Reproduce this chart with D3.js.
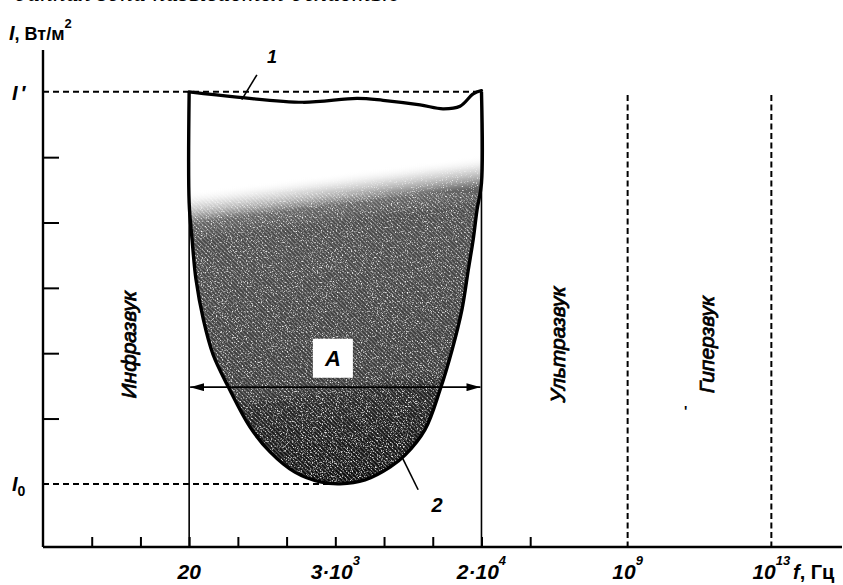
<!DOCTYPE html>
<html>
<head>
<meta charset="utf-8">
<script src="https://cdn.jsdelivr.net/npm/d3@7"></script>
<style>
  body { margin: 0; background: #fff; }
  svg { display: block; }
  text { font-family: "Liberation Sans", Arial, sans-serif; fill: #000; }
</style>
</head>
<body>
<svg id="chart" width="843" height="585"></svg>
<script>
// Schematic frequency axis: positions are evenly spaced slots, labels name the bands' edges.
const xTickSlots = [1, 2, 3, 4, 5, 6, 7, 8, 9, 10];
const freqSlots = [3, 6, 9, 12, 14.95];
const freqBase = ["20", "3·10", "2·10", "10", "10"];
const freqSup = ["", "3", "4", "9", "13"];

// Intensity levels: I0 = threshold of hearing, I' = threshold of pain.
const yTickLevels = [1, 2, 3, 4, 5];
const levelI0 = 0;
const levelIpain = 6;

// Curve 1: threshold of pain (slot, level)
const painCurve = [
  [3.00, 6.00], [3.98, 5.92], [5.34, 5.84], [6.45, 5.90], [6.98, 5.87],
  [7.74, 5.80], [8.21, 5.74], [8.56, 5.78], [8.83, 5.97], [9.00, 6.02]
];

// Curve 2: threshold of hearing (slot, level)
const hearingCurve = [
  [3.00, 4.30], [3.06, 3.74], [3.14, 3.13], [3.29, 2.52], [3.49, 1.98],
  [3.80, 1.49], [4.25, 0.87], [4.66, 0.49], [5.17, 0.18], [5.69, 0.03],
  [6.10, 0.00], [6.61, 0.06], [7.13, 0.26], [7.43, 0.44], [7.84, 0.83],
  [8.15, 1.44], [8.40, 2.06], [8.60, 2.67], [8.73, 3.28], [8.83, 3.74],
  [8.91, 4.20], [9.00, 4.60]
];

// Named frequency bands, written vertically
const bandNames = ["Инфразвук", "Ультразвук", "Гиперзвук"];
const bandSlots = [1.75, 10.55, 13.6];

// Audible range arrow
const arrowLevel = 1.48;
const areaLabel = "A";

const svg = d3.select("#chart");
const x = d3.scaleLinear().domain([0, 16.4]).range([43, 842]);
const y = d3.scaleLinear().domain([-0.966, 6.64]).range([547, 50]);

const defs = svg.append("defs");

// Vertical tone: pale and grainy near the top, nearly black at the bottom of the bowl
const grad = defs.append("linearGradient")
  .attr("id", "tone").attr("gradientUnits", "userSpaceOnUse")
  .attr("x1", x(6)).attr("y1", y(4.75))
  .attr("x2", x(6.8)).attr("y2", y(-0.05));
[[0, "#fff", 0], [0.04, "#ccc", 0.6], [0.1, "#666", 1], [0.16, "#4a4a4a", 1], [0.4, "#434343", 1],
 [0.66, "#3a3a3a", 1], [0.70, "#262626", 1], [0.9, "#141414", 1], [1, "#0c0c0c", 1]]
  .forEach(([o, c, a]) => grad.append("stop").attr("offset", o).attr("stop-color", c).attr("stop-opacity", a));

const hatch = defs.append("pattern")
  .attr("id", "hatch").attr("patternUnits", "userSpaceOnUse")
  .attr("width", 3).attr("height", 3).attr("patternTransform", "rotate(45)");
hatch.append("rect").attr("width", 3).attr("height", 1).attr("fill", "#fff").attr("fill-opacity", 0.3);

const grain = defs.append("filter").attr("id", "grain").attr("x", 0).attr("y", 0).attr("width", 1).attr("height", 1);
grain.append("feTurbulence").attr("type", "fractalNoise").attr("baseFrequency", 0.8).attr("numOctaves", 2).attr("seed", 3).attr("result", "noise");
grain.append("feColorMatrix").attr("in", "noise").attr("type", "matrix")
  .attr("values", "0 0 0 0 1  0 0 0 0 1  0 0 0 0 1  0 0 0 -3.5 1.4").attr("result", "specks");
grain.append("feComposite").attr("in", "specks").attr("in2", "SourceGraphic").attr("operator", "in").attr("result", "wspecks");
grain.append("feMerge").selectAll("feMergeNode").data(["SourceGraphic", "wspecks"]).join("feMergeNode").attr("in", d => d);

defs.append("marker")
  .attr("id", "head").attr("viewBox", "0 0 14 8").attr("refX", 14).attr("refY", 4)
  .attr("markerWidth", 14).attr("markerHeight", 8).attr("markerUnits", "userSpaceOnUse")
  .attr("orient", "auto-start-reverse")
  .append("path").attr("d", "M0,0 L14,4 L0,8 Z").attr("fill", "#000");

const line = d3.line().x(d => x(d[0])).y(d => y(d[1])).curve(d3.curveCatmullRom.alpha(0.5));

// Audible region: bounded by the two thresholds and the band edges
const regionPts = hearingCurve.concat([[9.00, levelIpain]], painCurve.slice().reverse(), [[3.00, levelIpain]]);
const regionLine = d3.line().x(d => x(d[0])).y(d => y(d[1])).curve(d3.curveLinearClosed);
defs.append("clipPath").attr("id", "region").append("path").attr("d", regionLine(regionPts));

const shade = svg.append("g").attr("clip-path", "url(#region)");
shade.append("rect")
  .attr("x", x(2.9)).attr("y", y(6.1)).attr("width", x(9.1) - x(2.9)).attr("height", y(-0.1) - y(6.1))
  .attr("fill", "url(#tone)").attr("filter", "url(#grain)");
shade.append("rect")
  .attr("x", x(2.9)).attr("y", y(4.45)).attr("width", x(9.1) - x(2.9)).attr("height", y(-0.1) - y(4.45))
  .attr("fill", "url(#hatch)");

// Axes
const xAxis = d3.axisBottom(x).tickValues(xTickSlots).tickSize(-10).tickSizeOuter(0).tickFormat("");
const gx = svg.append("g").attr("transform", `translate(0,${y.range()[0]})`).call(xAxis);
gx.select(".domain").attr("stroke-width", 2.4).attr("d", `M${x(0)},0H${x(16.4)}`);
gx.selectAll(".tick line").attr("stroke-width", 2);

const yAxis = d3.axisLeft(y).tickValues(yTickLevels).tickSize(-16).tickSizeOuter(0).tickFormat("");
const gy = svg.append("g").attr("transform", `translate(${x(0)},0)`).call(yAxis);
gy.select(".domain").attr("stroke-width", 2.4).attr("d", `M0,${y(6.64)}V${y(-0.966)}`);
gy.selectAll(".tick line").attr("stroke-width", 2);

// Thin band-edge lines at 20 Hz and 2·10^4 Hz
[3, 9].forEach(s => {
  svg.append("line").attr("x1", x(s)).attr("x2", x(s)).attr("y1", y(levelIpain)).attr("y2", y.range()[0])
    .attr("stroke", "#000").attr("stroke-width", 1.6);
});

// Dashed reference lines
const dash = "6,4";
svg.append("line").attr("x1", x(0)).attr("x2", x(9)).attr("y1", y(levelIpain)).attr("y2", y(levelIpain))
  .attr("stroke", "#000").attr("stroke-width", 2).attr("stroke-dasharray", dash);
svg.append("line").attr("x1", x(0)).attr("x2", x(6)).attr("y1", y(levelI0)).attr("y2", y(levelI0))
  .attr("stroke", "#000").attr("stroke-width", 2).attr("stroke-dasharray", dash);
[12, 14.95].forEach(s => {
  svg.append("line").attr("x1", x(s)).attr("x2", x(s)).attr("y1", y(5.95)).attr("y2", y.range()[0])
    .attr("stroke", "#000").attr("stroke-width", 2).attr("stroke-dasharray", "6,3.5");
});

// Thick outline of the audible region sides and threshold of hearing
const outline = [[3.00, levelIpain]].concat(hearingCurve, [[9.00, levelIpain]]);
svg.append("path").attr("d", line(outline))
  .attr("fill", "none").attr("stroke", "#000").attr("stroke-width", 3.4).attr("stroke-linejoin", "round");
// Threshold of pain
svg.append("path").attr("d", line(painCurve))
  .attr("fill", "none").attr("stroke", "#000").attr("stroke-width", 3.2).attr("stroke-linecap", "round");

// Audible range arrow with label box
svg.append("line")
  .attr("x1", x(3) + 1).attr("x2", x(9) - 1).attr("y1", y(arrowLevel)).attr("y2", y(arrowLevel))
  .attr("stroke", "#000").attr("stroke-width", 1.8)
  .attr("marker-start", "url(#head)").attr("marker-end", "url(#head)");
svg.append("rect").attr("x", x(5.95) - 20).attr("y", y(1.93) - 19).attr("width", 40).attr("height", 39).attr("fill", "#fff");
svg.append("text").attr("x", x(5.95)).attr("y", y(1.93) + 8).attr("text-anchor", "middle")
  .style("font-size", "22px").style("font-style", "italic").style("font-weight", "bold").text(areaLabel);

// Curve labels with leaders
svg.append("line").attr("x1", x(4.39)).attr("y1", y(6.26)).attr("x2", x(4.08)).attr("y2", y(5.88))
  .attr("stroke", "#000").attr("stroke-width", 1.6);
svg.append("text").attr("x", x(4.70)).attr("y", y(6.44)).attr("text-anchor", "middle")
  .style("font-size", "18px").style("font-style", "italic").style("font-weight", "bold").text("1");
svg.append("line").attr("x1", x(7.37)).attr("y1", y(0.41)).attr("x2", x(7.70)).attr("y2", y(-0.09))
  .attr("stroke", "#000").attr("stroke-width", 1.6);
svg.append("text").attr("x", x(8.09)).attr("y", y(-0.43)).attr("text-anchor", "middle")
  .style("font-size", "20px").style("font-style", "italic").style("font-weight", "bold").text("2");

// Band names, rotated
bandNames.forEach((name, i) => {
  svg.append("text")
    .attr("transform", `translate(${x(bandSlots[i]) + 8},${y(2.13)}) rotate(-90)`)
    .attr("text-anchor", "middle")
    .style("font-size", "21px").style("font-style", "italic").style("stroke", "#000").style("stroke-width", 0.8)
    .text(name);
});
svg.append("text").attr("x", 684).attr("y", 416).style("font-size", "14px").style("font-weight", "bold").text("'");

// Frequency labels
freqSlots.forEach((s, i) => {
  const t = svg.append("text").attr("x", x(s)).attr("y", 579).attr("text-anchor", "middle")
    .style("font-size", "21px").style("font-style", "italic").style("font-weight", "bold");
  t.append("tspan").text(freqBase[i]);
  if (freqSup[i]) t.append("tspan").attr("dy", -14).style("font-size", "13px").text(freqSup[i]);
});
const fl = svg.append("text").attr("x", 793).attr("y", 579).style("font-size", "20px").style("font-weight", "bold");
fl.append("tspan").style("font-style", "italic").text("f");
fl.append("tspan").text(", Гц");

// Intensity labels
const yl = svg.append("text").attr("x", 9).attr("y", 40).style("font-size", "18px").style("font-weight", "bold");
yl.append("tspan").style("font-style", "italic").style("font-size", "20px").text("I");
yl.append("tspan").text(", Вт/м");
yl.append("tspan").attr("dy", -12).style("font-size", "13px").text("2");

const ip = svg.append("text").attr("x", 12).attr("y", y(levelIpain) + 8).style("font-size", "20px").style("font-weight", "bold").style("font-style", "italic");
ip.append("tspan").text("I");
ip.append("tspan").attr("dx", 3).text("′");
const i0 = svg.append("text").attr("x", 12).attr("y", y(levelI0) + 7).style("font-size", "20px").style("font-weight", "bold").style("font-style", "italic");
i0.append("tspan").text("I");
i0.append("tspan").attr("dy", 5).style("font-size", "14px").style("font-style", "normal").text("0");

// Last line of the preceding paragraph, trimmed by the top edge
svg.append("text").attr("x", 14).attr("y", 1)
  .style("font-family", "'Liberation Serif', serif").style("font-style", "italic").style("font-size", "26px")
  .text("данная зона         называется областью");
</script>
</body>
</html>
